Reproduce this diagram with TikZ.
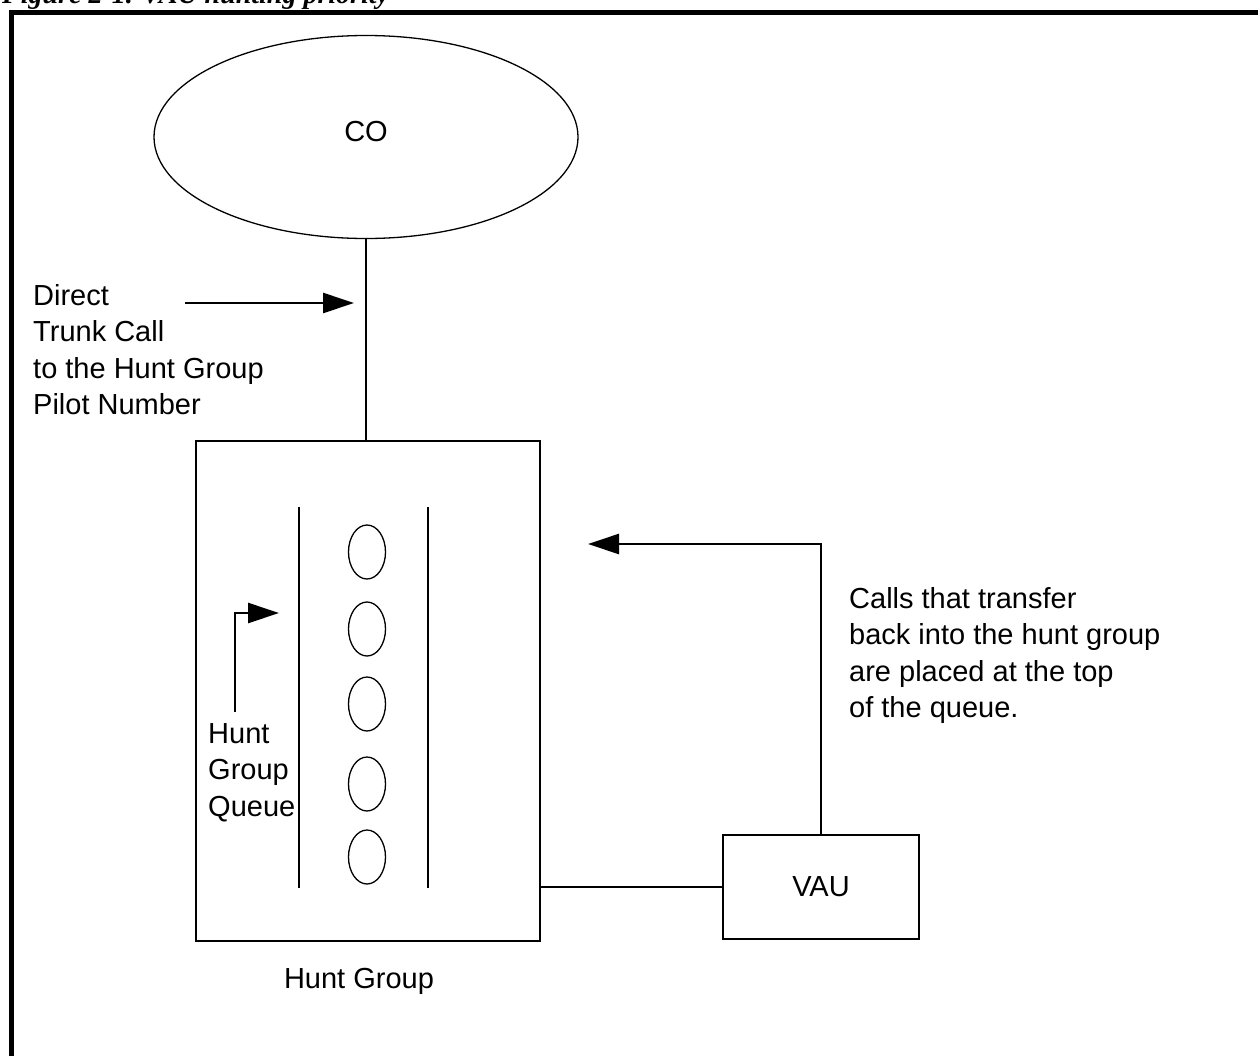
\documentclass[tikz,border=0pt]{standalone}
\usepackage{fontspec}
\setmainfont{Liberation Sans}
\newfontfamily\capfont{Liberation Serif}
\usetikzlibrary{shapes.geometric,arrows.meta}
\begin{document}
\begin{tikzpicture}[x=1pt,y=-1pt,
  every node/.style={font=\fontsize{29}{36.5}\selectfont, inner sep=0pt},
  thick line/.style={line width=2.6pt},
  thin line/.style={line width=1.3pt},
  box/.style={draw, rectangle, line width=2.6pt},
  oval/.style={draw, ellipse, line width=1.3pt},
  arr/.style={line width=2.6pt, -{Triangle[length=31pt,width=20pt]}},
  lbl/.style={align=left, anchor=north west}]
\useasboundingbox (0,0) rectangle (1258,1055);
\begin{scope}
\clip (0,0) rectangle (1258,1055);
\node[anchor=base west, font=\capfont\bfseries\itshape\fontsize{28}{30}\selectfont] (cap) at (2,3) {Figure 2-1. VAU hunting priority};
\end{scope}
% frame
\draw[line width=5pt] (11.5,1060) -- (11.5,12) -- (1265,12);
% CO
\node[oval, minimum width=424pt, minimum height=203pt] (co) at (366,137) {};
\node (cotxt) at (366,132) {CO};
% hunt group
\node[box, minimum width=344pt, minimum height=500pt] (hg) at (368,691) {};
\draw[thick line] (co.south) -- (co.south |- hg.north);
% queue bars
\draw[thick line] (299,507) -- (299,888);
\draw[thick line] (428,507) -- (428,888);
% queue slots
\foreach \i/\y in {1/552,2/629,3/704,4/784,5/857}
  \node[oval, minimum width=37pt, minimum height=54pt] (q\i) at (367,\y) {};
% VAU
\node[box, minimum width=196pt, minimum height=104pt] (vau) at (821,887) {};
\node (vautxt) at (821,887) {VAU};
\draw[thick line] (hg.east |- vau.west) -- (vau.west);
% arrows
\coordinate (d1) at (185,303);
\coordinate (d2) at (354,303);
\draw[arr] (d1) -- (d2);
\coordinate (qa1) at (235,712);
\coordinate (qa2) at (279,613);
\draw[arr] (qa1) |- (qa2);
\coordinate (ta) at (588,544);
\draw[arr] (vau.north) |- (ta);
% labels
\node[lbl] (direct) at (33,284) {Direct\\Trunk Call\\to the Hunt Group\\Pilot Number};
\node[lbl] (queue) at (208,723) {Hunt\\Group\\Queue};
\node[lbl] (calls) at (849,587) {Calls that transfer\\back into the hunt group\\are placed at the top\\of the queue.};
\node[anchor=base] (hglbl) at (359,988) {Hunt Group};
\end{tikzpicture}
\end{document}
